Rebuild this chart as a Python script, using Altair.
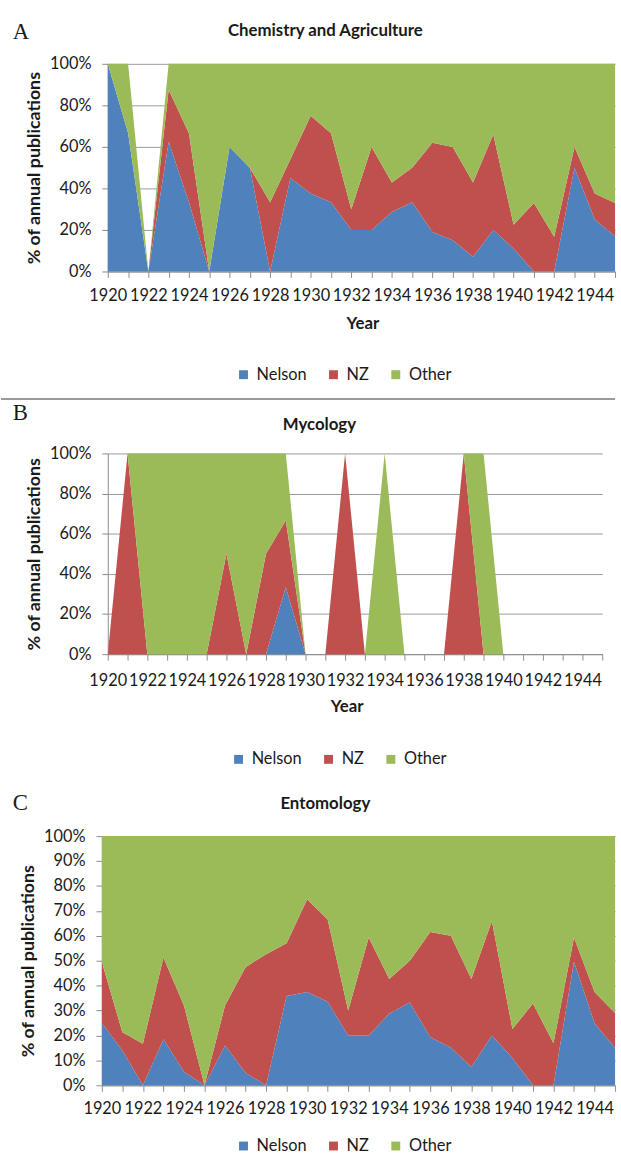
import altair as alt
import pandas as pd

# ---------------- data ----------------
years = list(range(1920, 1946))
series = ["Nelson", "NZ", "Other"]
colors = ["#4F81BD", "#C0504D", "#9BBB59"]

# A: Chemistry and Agriculture (% of annual publications)
chem_nelson = [100, 66.7, 0, 62.5, 33.3, 0, 60, 50, 0, 45, 37.5, 33.3, 20, 20, 28.6, 33.3, 19, 15, 7.1, 20, 11, 0, 0, 50, 25, 17]
chem_nz = [0, 0, 0, 25, 33.3, 0, 0, 0, 33.3, 9, 37.5, 33.3, 10, 40, 14.3, 16.7, 43, 45, 35.7, 46, 11.5, 33, 16.7, 10, 12.5, 16]
chem_other = [0, 33.3, 0, 12.5, 33.4, 100, 40, 50, 66.7, 46, 25, 33.4, 70, 40, 57.1, 50, 38, 40, 57.2, 34, 77.5, 67, 83.3, 40, 62.5, 67]

# B: Mycology
myco_nelson = [0, 0, 0, 0, 0, 0, 0, 0, 0, 33.3, 0, 0, 0, 0, 0, 0, 0, 0, 0, 0, 0, 0, 0, 0, 0, 0]
myco_nz = [0, 100, 0, 0, 0, 0, 50, 0, 50, 33.3, 0, 0, 100, 0, 0, 0, 0, 0, 100, 0, 0, 0, 0, 0, 0, 0]
myco_other = [0, 0, 100, 100, 100, 100, 50, 100, 50, 33.4, 0, 0, 0, 0, 100, 0, 0, 0, 0, 100, 0, 0, 0, 0, 0, 0]

# C: Entomology
ento_nelson = [25, 14, 0, 18.5, 5.4, 0, 16, 5, 0, 35.8, 37.4, 33.5, 20, 20, 28.8, 33.2, 19.3, 15.2, 7.3, 20, 11, 0, 0, 49.6, 24.9, 15]
ento_nz = [24.5, 7.3, 16.7, 32.8, 26.6, 0, 16, 42.4, 52.6, 21.2, 37.3, 33, 10, 39.3, 13.9, 16.8, 42.2, 44.8, 35.4, 45.9, 11.6, 32.8, 16.9, 9.7, 12.5, 14]
ento_other = [50.5, 78.7, 83.3, 48.7, 68, 100, 68, 52.6, 47.4, 43, 25.3, 33.5, 70, 40.7, 57.3, 50, 38.5, 40, 57.3, 34.1, 77.4, 67.2, 83.1, 40.7, 62.6, 71]

FONT = "Lato"
TXT = "#1a1a1a"
AX = "#8c8c8c"
GRID = "#9a9a9a"


def make_df(nel, nz, oth):
    rows = []
    for i, yr in enumerate(years):
        for k, vals in enumerate((nel, nz, oth)):
            rows.append({"year": yr, "series": series[k], "k": k, "pct": vals[i]})
    return pd.DataFrame(rows)


ONE = alt.Data(values=[{"a": 1}])


def txt(s, x, y, size=17, weight="bold", font=FONT, baseline="alphabetic", align="center"):
    return alt.Chart(ONE).mark_text(
        text=s, font=font, fontSize=size, fontWeight=weight, color=TXT,
        align=align, baseline=baseline,
    ).encode(x=alt.value(x), y=alt.value(y))


def frame(y1, y2):
    return alt.Chart(ONE).mark_rect(fill="white", opacity=0).encode(
        x=alt.value(-108), x2=alt.value(513), y=alt.value(y1), y2=alt.value(y2)
    )


def area_chart(df, height, xrange, ystep, yoffset, xlabpad, legend_xy):
    if xrange is None:
        xscale = alt.Scale(domain=[1920, 1945], nice=False, zero=False)
    else:
        xscale = alt.Scale(domain=[1920, 1945], nice=False, zero=False, range=xrange)
    return alt.Chart(df).mark_area(opacity=1).encode(
        x=alt.X(
            "year:Q", scale=xscale,
            axis=alt.Axis(
                values=years, format="d",
                labelExpr="datum.value % 2 == 0 ? datum.label : ''",
                title=None, grid=False, domainColor=AX, tickColor=AX, tickSize=6,
                labelPadding=xlabpad, labelFont=FONT, labelFontSize=16.5, labelColor=TXT,
                labelOverlap=False, labelFlush=False,
            ),
        ),
        y=alt.Y(
            "pct:Q", stack="zero", scale=alt.Scale(domain=[0, 100], nice=False),
            axis=alt.Axis(
                values=list(range(0, 101, ystep)), labelExpr="datum.value + '%'",
                title="% of annual publications", titleFont=FONT, titleFontSize=18,
                titleFontWeight="bold", titleColor=TXT, titleAngle=270,
                titleAlign="center", titleBaseline="middle", titleX=-74, titleY=height / 2,
                offset=yoffset, grid=True, gridColor=GRID, domainColor=AX, tickColor=AX,
                tickSize=6, labelPadding=11, labelFont=FONT, labelFontSize=16.5,
                labelColor=TXT,
            ),
        ),
        color=alt.Color(
            "series:N", scale=alt.Scale(domain=series, range=colors),
            legend=alt.Legend(
                orient="none", legendX=legend_xy[0], legendY=legend_xy[1],
                direction="horizontal", title=None, symbolType="square",
                symbolSize=81, symbolStrokeWidth=0, symbolOpacity=1,
                labelFont=FONT, labelFontSize=16.5, labelColor=TXT,
                columnPadding=18, labelOffset=5, padding=0,
            ),
        ),
        order=alt.Order("k:Q"),
    )


# Panel A
pA = alt.layer(
    frame(-58, 337),
    area_chart(make_df(chem_nelson, chem_nz, chem_other), 210, None, 20, 0, 10, (129, 306)),
    txt("A", -96, -25, size=23, weight="normal", font="Liberation Serif", align="left"),
    txt("Chemistry and Agriculture", 220, -28),
    txt("Year", 258, 263, baseline="middle"),
).properties(width=513, height=210)

# Panel B
sep = alt.Chart(ONE).mark_rule(color="#9a9a9a", strokeWidth=2).encode(
    x=alt.value(-108), x2=alt.value(513), y=alt.value(-55)
)
pB = alt.layer(
    frame(-57, 338),
    sep,
    area_chart(make_df(myco_nelson, myco_nz, myco_other), 203, None, 20, 0, 13, (124, 301)),
    txt("B", -96, -34, size=23, weight="normal", font="Liberation Serif", align="left"),
    txt("Mycology", 214, -24),
    txt("Year", 242, 256, baseline="middle"),
).properties(width=500, height=203)

# Panel C
pC = alt.layer(
    frame(-49, 323),
    area_chart(make_df(ento_nelson, ento_nz, ento_other), 252, [-6, 513], 10, 6, 10, (129, 305)),
    txt("C", -96, -26, size=23, weight="normal", font="Liberation Serif", align="left"),
    txt("Entomology", 220, -27),
).properties(width=513, height=252)

chart = (
    alt.vconcat(pA, pB, pC, spacing=0)
    .resolve_scale(color="independent")
    .resolve_legend(color="independent")
    .properties(padding=0)
    .configure_view(strokeWidth=0)
)

chart.save("out.html", embed_options={"renderer": "svg", "actions": False})
